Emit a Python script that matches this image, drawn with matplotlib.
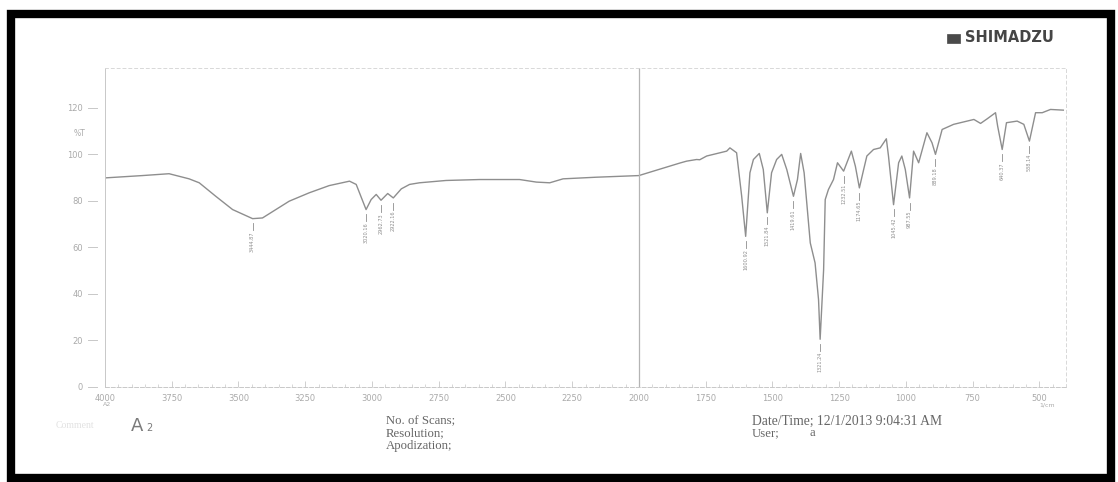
import matplotlib
matplotlib.use("Agg")
import matplotlib.pyplot as plt
from matplotlib.patches import Rectangle
from matplotlib.transforms import blended_transform_factory

# FTIR spectrum (wavenumber in 1/cm, %T)
wavenumber = [4000, 3860, 3760, 3685, 3647, 3585, 3522, 3447, 3410, 3360, 3310,
              3235, 3160, 3084, 3059, 3022, 3003, 2984, 2966, 2941, 2920, 2890,
              2859, 2822, 2722, 2597, 2447, 2384, 2334, 2284, 2159, 2000, 1946,
              1846, 1821, 1784, 1772, 1746, 1721, 1671, 1659, 1634, 1615, 1600,
              1584, 1571, 1549, 1534, 1519, 1503, 1484, 1465, 1446, 1421, 1406,
              1394, 1381, 1358, 1340, 1327, 1321, 1308, 1302, 1290, 1271, 1256,
              1233, 1204, 1189, 1174, 1158, 1146, 1121, 1096, 1073, 1065, 1046,
              1027, 1015, 1002, 986, 971, 952, 921, 902, 889, 864, 821, 745,
              720, 695, 664, 656, 639, 623, 583, 558, 537, 514, 489, 458, 410]
transmittance = [89.8, 90.8, 91.6, 89.4, 87.7, 81.9, 76.2, 72.3, 72.6, 76.2, 79.8,
                 83.4, 86.5, 88.4, 87.0, 76.2, 80.5, 82.7, 80.2, 83.1, 81.2, 85.1,
                 87.0, 87.7, 88.7, 89.1, 89.1, 88.0, 87.7, 89.4, 90.1, 90.8, 92.7,
                 96.2, 97.0, 97.7, 97.6, 99.2, 99.9, 101.3, 102.7, 100.6, 82.0, 64.7,
                 92.0, 97.7, 100.3, 93.4, 74.8, 92.0, 97.7, 99.9, 93.4, 81.9, 89.1,
                 100.3, 92.0, 61.9, 53.3, 37.5, 20.5, 50.4, 80.5, 84.8, 89.1, 96.3,
                 92.7, 101.3, 94.8, 85.5, 93.4, 99.2, 102.0, 102.7, 106.6, 99.2, 78.3,
                 96.3, 99.2, 93.4, 81.2, 101.3, 96.3, 109.2, 104.9, 99.9, 110.6, 112.8, 114.9,
                 113.2, 115.2, 117.8, 112.0, 102.0, 113.5, 114.2, 112.8, 105.6, 117.8, 117.8, 119.2, 118.9]

# labelled minima
peak_wn = [3447, 3022, 2966, 2920, 1600, 1519, 1421, 1321, 1233, 1174, 1046, 986, 889, 639, 537]
peak_t = [72.3, 76.2, 80.2, 81.2, 64.7, 74.8, 81.9, 20.5, 92.7, 85.5, 78.3, 81.2, 99.9, 102.0, 105.6]
peak_labels = ["3444.87", "3020.16", "2962.73", "2922.16", "1600.92", "1521.84",
               "1419.61", "1321.24", "1232.51", "1174.65", "1045.42", "987.55",
               "889.18", "640.37", "538.14"]

y_ticks = [0, 20, 40, 60, 80, 100, 120]
x_ticks = [4000, 3750, 3500, 3250, 3000, 2750, 2500, 2250, 2000, 1750, 1500, 1250, 1000, 750, 500]

W, H = 1118, 482
fig = plt.figure(figsize=(W / 100, H / 100), dpi=100)
fig.patch.set_facecolor("white")

ax = fig.add_axes([105 / W, 1 - 387 / H, 961 / W, 319 / H])
ax.set_xlim(4000, 400)
ax.set_ylim(0, 137)
ax.patch.set_alpha(0)

line_c = "#8e8e8e"
axis_c = "#c8c8c8"
text_c = "#aaaaaa"

ax.plot(wavenumber, transmittance, color=line_c, lw=1.0)
ax.axvline(2000, color="#b4b4b4", lw=0.9)

for wn, t, lab in zip(peak_wn, peak_t, peak_labels):
    ax.plot([wn, wn], [t - 2.0, t - 5.0], color=line_c, lw=0.6)
    ax.text(wn, t - 5.5, lab, rotation=90, ha="center", va="top",
            fontsize=3.6, color="#8e8e8e")

for s in ["top", "right"]:
    ax.spines[s].set_color("#d8d8d8")
    ax.spines[s].set_linestyle((0, (3, 3)))
    ax.spines[s].set_linewidth(0.7)
ax.spines["left"].set_color(axis_c)
ax.spines["left"].set_linewidth(0.7)
ax.spines["bottom"].set_color(axis_c)
ax.spines["bottom"].set_linestyle((0, (4, 2)))
ax.spines["bottom"].set_linewidth(0.7)

ax.set_xticks(x_ticks)
ax.set_xticklabels([str(v) for v in x_ticks])
ax.set_xticks(range(4000, 400, -50), minor=True)
ax.tick_params(axis="x", which="major", direction="in", length=4, width=0.6,
               color=axis_c, labelsize=6, labelcolor=text_c, pad=5)
ax.tick_params(axis="x", which="minor", direction="in", length=2, width=0.5, color=axis_c)

ax.set_yticks(y_ticks)
ax.set_yticklabels([str(v) for v in y_ticks])
ax.tick_params(axis="y", which="major", length=0, labelsize=6, labelcolor=text_c, pad=16)
trans = blended_transform_factory(ax.transAxes, ax.transData)
for v in y_ticks:
    ax.plot([-0.0177, -0.0083], [v, v], transform=trans, color=axis_c, lw=0.7, clip_on=False)

fig.text(80 / W, 1 - 133 / H, "%T", fontsize=5.5, color=text_c, ha="center", va="center")
fig.text(107 / W, 1 - 405 / H, "A2", fontsize=4.5, color=text_c, ha="center", va="center")
fig.text(1047 / W, 1 - 405 / H, "1/cm", fontsize=4.5, color=text_c, ha="center", va="center")

# header logo
fig.patches.append(Rectangle((947 / W, 1 - 43 / H), 13 / W, 9 / H, transform=fig.transFigure,
                             facecolor="#4a4a4a", edgecolor="#4a4a4a", lw=0.5))
fig.text(965 / W, 1 - 38 / H, "SHIMADZU", fontsize=10.5, fontweight="heavy",
         color="#454545", ha="left", va="center")

# footer text
fig.text(75 / W, 1 - 426 / H, "Comment", fontsize=7, color="#e2e2e2", ha="center", va="center",
         family="Liberation Serif")
fig.text(131 / W, 1 - 426 / H, "A", fontsize=13, color="#7a7a7a", ha="left", va="center")
fig.text(146 / W, 1 - 428 / H, "2", fontsize=7, color="#7a7a7a", ha="left", va="center")

serif = "Liberation Serif"
foot_c = "#666666"
for i, s in enumerate(["No. of Scans;", "Resolution;", "Apodization;"]):
    fig.text(386 / W, 1 - (421 + 12.5 * i) / H, s, fontsize=9.2, family=serif,
             color=foot_c, ha="left", va="center")
fig.text(752 / W, 1 - 421 / H, "Date/Time; 12/1/2013 9:04:31 AM", fontsize=9.8, family=serif,
         color=foot_c, ha="left", va="center")
fig.text(752 / W, 1 - 433 / H, "User;", fontsize=9.2, family=serif, color=foot_c,
         ha="left", va="center")
fig.text(810 / W, 1 - 433 / H, "a", fontsize=9.2, family=serif, color=foot_c,
         ha="left", va="center")

# black scan border
fig.patches.append(Rectangle((11 / W, 4 / H), 1100 / W, 464 / H, transform=fig.transFigure,
                             fill=False, edgecolor="black", lw=6))

fig.savefig("out.png", dpi=100, facecolor="white")
